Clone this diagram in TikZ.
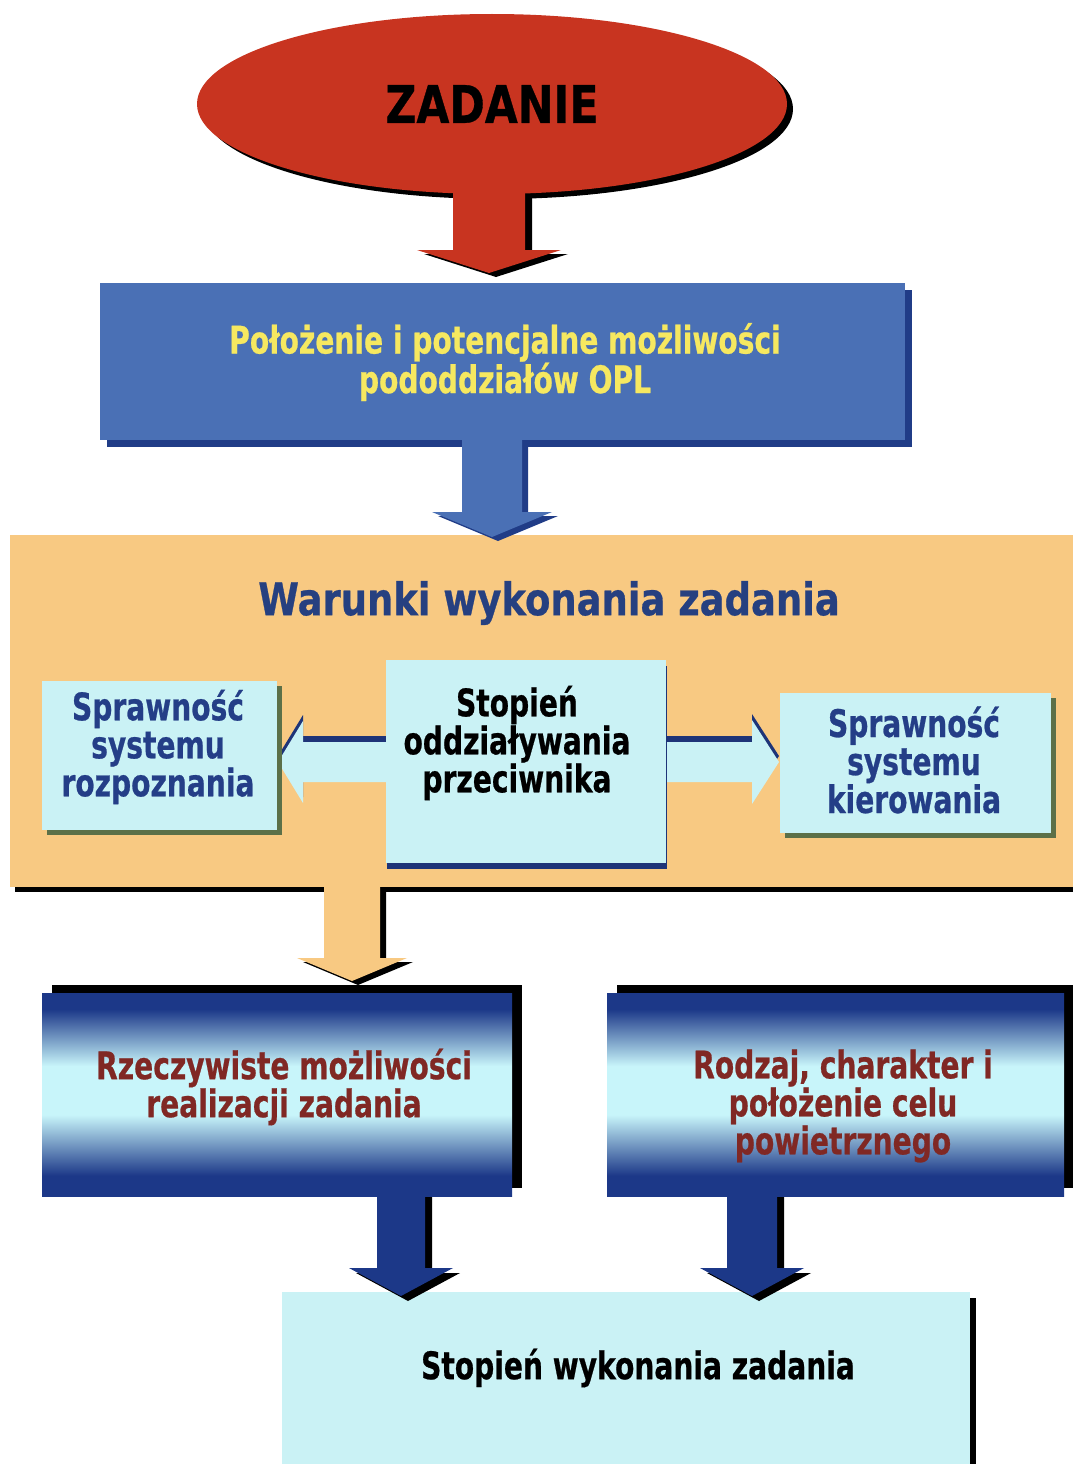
\documentclass[tikz,border=0pt]{standalone}
\usepackage{fontspec}
\setmainfont{DejaVu Sans}[FakeStretch=0.74, BoldFeatures={FakeBold=0.6}]
\newfontfamily\widefont{DejaVu Sans}[FakeStretch=0.82, BoldFeatures={FakeBold=0.6}]
\usetikzlibrary{shapes.geometric,shadows}

\definecolor{zadred}{RGB}{200,52,32}
\definecolor{oplblue}{RGB}{74,112,181}
\definecolor{oplshade}{RGB}{32,60,135}
\definecolor{opltext}{RGB}{246,232,96}
\definecolor{warorange}{RGB}{248,201,130}
\definecolor{wartitle}{RGB}{38,64,128}
\definecolor{paleCyan}{RGB}{202,242,245}
\definecolor{boxolive}{RGB}{92,112,72}
\definecolor{navyline}{RGB}{30,52,120}
\definecolor{sidetext}{RGB}{36,62,135}
\definecolor{deepblue}{RGB}{28,56,136}
\definecolor{bandlight}{RGB}{200,245,250}
\definecolor{maroontext}{RGB}{128,40,36}

% vertical band: dark at top and bottom, light in the middle
\pgfdeclareverticalshading{bandshade}{100bp}{%
  color(0bp)=(deepblue); color(25bp)=(deepblue); color(30bp)=(deepblue);
  color(45bp)=(bandlight); color(57bp)=(bandlight);
  color(71bp)=(deepblue); color(75bp)=(deepblue); color(100bp)=(deepblue)}

% block arrow pointing down: cx, top y, head base y, tip y, half stem, half head
\newcommand\downpath[6]{(#1-#5,#2) -- (#1+#5,#2) -- (#1+#5,#3) -- (#1+#6,#3)
  -- (#1,#4) -- (#1-#6,#3) -- (#1-#5,#3) -- cycle}
% block arrow pointing sideways: cy, stem start x, head base x, tip x, half stem, half head
\newcommand\sidepath[6]{(#2,#1-#5) -- (#3,#1-#5) -- (#3,#1-#6) -- (#4,#1)
  -- (#3,#1+#6) -- (#3,#1+#5) -- (#2,#1+#5) -- cycle}

\tikzset{
  panel/.style={rectangle, inner sep=0pt, outer sep=0pt},
  boxtext/.style={align=center, inner sep=0pt, font=\bfseries\fontsize{38}{38}\selectfont},
  hardshadow/.style 2 args={drop shadow={shadow xshift=#1pt, shadow yshift=#2pt,
      opacity=1, fill=black}},
}

\begin{document}
\begin{tikzpicture}[x=1pt,y=-1pt]
\useasboundingbox (0,0) rectangle (1073,1464);
\fill[white] (0,0) rectangle (1073,1464);

% ---- conditions band ----
\fill[black] (15,540) rectangle (1080,892);
\fill[warorange] (10,535) rectangle (1080,887);

% ---- final result box ----
\fill[black] (287,1298) rectangle (976,1470);
\node[panel, fill=paleCyan, minimum width=688pt, minimum height=180pt, anchor=north west]
  (result) at (282,1292) {};
\node[boxtext, text=black] (resulttxt) at (638,1368) {Stopień wykonania zadania};

% ---- task ellipse ----
\fill[black, shift={(7,4)}] \downpath{489}{180}{250}{273}{36}{72};
\node[ellipse, fill=zadred, inner sep=0pt, minimum width=590pt, minimum height=180pt,
  hardshadow={6}{-5}, font=\widefont\bfseries\fontsize{52}{52}\selectfont]
  (zad) at (492,104) {ZADANIE};
\fill[zadred] \downpath{489}{180}{250}{273}{36}{72};

% ---- OPL position box ----
\fill[oplshade, shift={(6,4)}] \downpath{492}{430}{512}{537}{30}{60};
\node[panel, fill=oplblue, minimum width=805pt, minimum height=157pt,
  drop shadow={shadow xshift=7pt, shadow yshift=-7pt, opacity=1, fill=oplshade}]
  (opl) at (502.5,361.5) {};
\node[boxtext, text=opltext] (opltxt) at (505,362)
  {Położenie i potencjalne możliwości\\pododdziałów OPL};
\fill[oplblue] \downpath{492}{430}{512}{537}{30}{60};

% ---- title of the band ----
\node[inner sep=0pt, text=wartitle, font=\widefont\bfseries\fontsize{45}{45}\selectfont]
  (wartitle) at (549,603) {Warunki wykonania zadania};

% ---- side arrows from the centre box ----
\fill[navyline, shift={(0,-6)}] \sidepath{762}{395}{303}{278}{20}{41};
\fill[paleCyan] \sidepath{762}{395}{303}{278}{20}{41};
\fill[navyline, shift={(0,-6)}] \sidepath{762}{655}{752}{779}{20}{42};
\fill[paleCyan] \sidepath{762}{655}{752}{779}{20}{42};

% ---- three boxes inside the band ----
\node[panel, fill=paleCyan, minimum width=235pt, minimum height=149pt,
  drop shadow={shadow xshift=5pt, shadow yshift=-5pt, opacity=1, fill=boxolive}]
  (recon) at (159.5,755.5) {};
\node[boxtext, text=sidetext] (recontxt) at (158,747)
  {Sprawność\\systemu\\rozpoznania};

\node[panel, fill=paleCyan, minimum width=271pt, minimum height=140pt,
  drop shadow={shadow xshift=5pt, shadow yshift=-5pt, opacity=1, fill=boxolive}]
  (command) at (915.5,763) {};
\node[boxtext, text=sidetext] (commandtxt) at (914,760)
  {Sprawność\\systemu\\kierowania};

\node[panel, fill=paleCyan, minimum width=280pt, minimum height=203pt,
  drop shadow={shadow xshift=1pt, shadow yshift=-6pt, opacity=1, fill=navyline}]
  (enemy) at (526,761.5) {};
\node[boxtext, text=black] (enemytxt) at (517,743)
  {Stopień\\oddziaływania\\przeciwnika};

% ---- arrow out of the band ----
\fill[black, shift={(6,4)}] \downpath{352}{885}{958}{981}{28}{55};
\fill[warorange] \downpath{352}{885}{958}{981}{28}{55};

% ---- two shaded boxes ----
\node[panel, shade, shading=bandshade, minimum width=470pt, minimum height=203pt,
  hardshadow={10}{8}] (real) at (277,1094.5) {};
\node[boxtext, text=maroontext] (realtxt) at (284,1087)
  {Rzeczywiste możliwości\\realizacji zadania};

\node[panel, shade, shading=bandshade, minimum width=457pt, minimum height=203pt,
  hardshadow={10}{8}] (target) at (835.5,1094.5) {};
\node[boxtext, text=maroontext] (targettxt) at (843,1106)
  {Rodzaj, charakter i\\położenie celu\\powietrznego};

% ---- arrows into the final box ----
\fill[black, shift={(7,5)}] \downpath{401}{1192}{1268}{1296}{24}{52};
\fill[deepblue] \downpath{401}{1192}{1268}{1296}{24}{52};
\fill[black, shift={(7,5)}] \downpath{752}{1192}{1268}{1296}{25}{52};
\fill[deepblue] \downpath{752}{1192}{1268}{1296}{25}{52};
\end{tikzpicture}
\end{document}
